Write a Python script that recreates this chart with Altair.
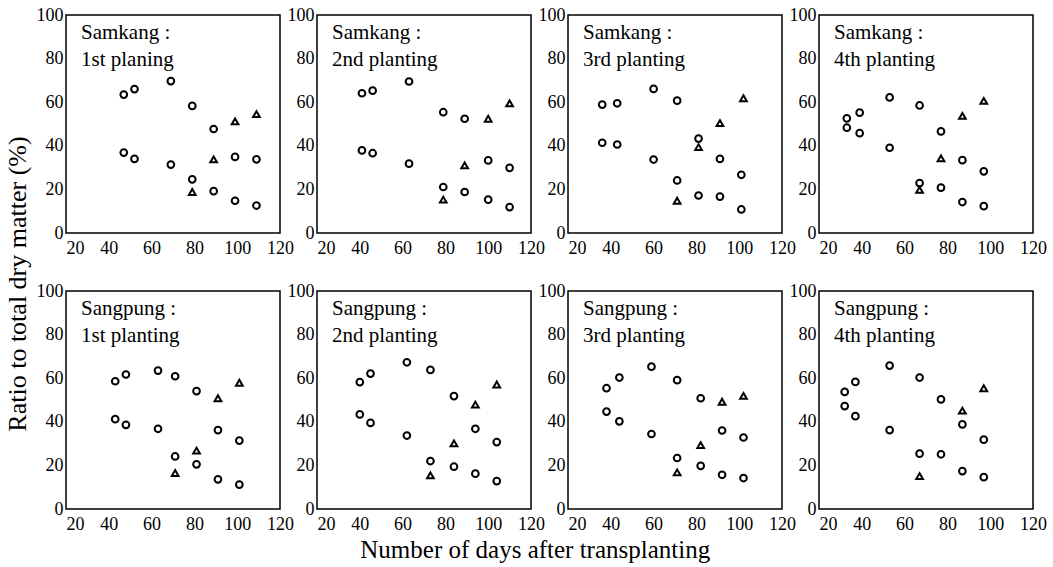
import altair as alt
import pandas as pd

# ---------------- data ----------------
PANEL_LABELS = [
    ["Samkang :", "1st planing"],
    ["Samkang :", "2nd planting"],
    ["Samkang :", "3rd planting"],
    ["Samkang :", "4th planting"],
    ["Sangpung :", "1st planting"],
    ["Sangpung :", "2nd planting"],
    ["Sangpung :", "3rd planting"],
    ["Sangpung :", "4th planting"],
]

# Samkang 1st planting
P1_CIRCLE_DAYS = [47, 52, 69, 79, 89, 47, 52, 69, 79, 89, 99, 109, 99, 109]
P1_CIRCLE_RATIO = [63.5, 66.0, 69.7, 58.3, 47.7, 36.9, 34.0, 31.4, 24.6, 19.2, 34.9, 33.8, 14.8, 12.6]
P1_TRIANGLE_DAYS = [79, 89, 99, 109]
P1_TRIANGLE_RATIO = [18.8, 33.8, 51.2, 54.5]

# Samkang 2nd planting
P2_CIRCLE_DAYS = [41, 46, 63, 79, 89, 41, 46, 63, 79, 89, 100, 110, 100, 110]
P2_CIRCLE_RATIO = [64.1, 65.3, 69.5, 55.4, 52.4, 37.9, 36.6, 31.8, 21.1, 18.8, 33.3, 29.9, 15.3, 11.9]
P2_TRIANGLE_DAYS = [79, 89, 100, 110]
P2_TRIANGLE_RATIO = [15.3, 31.0, 52.4, 59.5]

# Samkang 3rd planting
P3_CIRCLE_DAYS = [36, 43, 60, 71, 81, 36, 43, 60, 71, 81, 91, 91, 101, 101]
P3_CIRCLE_RATIO = [58.9, 59.5, 66.1, 60.7, 43.3, 41.4, 40.6, 33.7, 24.1, 17.2, 34.0, 16.7, 26.7, 10.8]
P3_TRIANGLE_DAYS = [71, 81, 91, 102]
P3_TRIANGLE_RATIO = [14.8, 39.4, 50.4, 61.8]

# Samkang 4th planting
P4_CIRCLE_DAYS = [33, 33, 39, 39, 53, 53, 67, 67, 77, 77, 87, 87, 97, 97]
P4_CIRCLE_RATIO = [52.6, 48.3, 55.2, 45.8, 62.2, 39.1, 58.5, 22.9, 46.6, 20.8, 33.4, 14.2, 28.3, 12.3]
P4_TRIANGLE_DAYS = [67, 77, 87, 97]
P4_TRIANGLE_RATIO = [19.8, 34.2, 53.7, 60.6]

# Sangpung 1st planting
P5_CIRCLE_DAYS = [43, 48, 63, 71, 81, 43, 48, 63, 71, 81, 91, 91, 101, 101]
P5_CIRCLE_RATIO = [58.6, 61.7, 63.5, 60.9, 54.1, 41.2, 38.6, 36.8, 24.1, 20.5, 36.2, 13.6, 31.4, 11.2]
P5_TRIANGLE_DAYS = [71, 81, 91, 101]
P5_TRIANGLE_RATIO = [16.5, 26.8, 50.8, 57.9]

# Sangpung 2nd planting
P6_CIRCLE_DAYS = [40, 45, 62, 73, 84, 40, 45, 62, 73, 84, 94, 94, 104, 104]
P6_CIRCLE_RATIO = [58.2, 62.1, 67.3, 63.8, 51.8, 43.4, 39.5, 33.7, 22.0, 19.4, 36.8, 16.2, 30.7, 12.8]
P6_TRIANGLE_DAYS = [73, 84, 94, 104]
P6_TRIANGLE_RATIO = [15.4, 30.1, 47.9, 57.1]

# Sangpung 3rd planting
P7_CIRCLE_DAYS = [38, 44, 59, 71, 82, 38, 44, 59, 71, 82, 92, 92, 102, 102]
P7_CIRCLE_RATIO = [55.4, 60.3, 65.3, 59.1, 50.8, 44.7, 40.2, 34.4, 23.4, 19.8, 36.0, 15.7, 32.8, 14.2]
P7_TRIANGLE_DAYS = [71, 82, 92, 102]
P7_TRIANGLE_RATIO = [16.8, 29.3, 49.2, 51.9]

# Sangpung 4th planting
P8_CIRCLE_DAYS = [32, 32, 37, 37, 53, 53, 67, 67, 77, 77, 87, 87, 97, 97]
P8_CIRCLE_RATIO = [53.7, 47.2, 58.3, 42.6, 65.8, 36.2, 60.3, 25.4, 50.3, 25.1, 38.8, 17.4, 31.8, 14.6]
P8_TRIANGLE_DAYS = [67, 87, 97]
P8_TRIANGLE_RATIO = [15.1, 45.1, 55.4]

X_TICKS = [20, 40, 60, 80, 100, 120]
Y_TICKS = [0, 20, 40, 60, 80, 100]

PANELS = [
    (P1_CIRCLE_DAYS, P1_CIRCLE_RATIO, P1_TRIANGLE_DAYS, P1_TRIANGLE_RATIO),
    (P2_CIRCLE_DAYS, P2_CIRCLE_RATIO, P2_TRIANGLE_DAYS, P2_TRIANGLE_RATIO),
    (P3_CIRCLE_DAYS, P3_CIRCLE_RATIO, P3_TRIANGLE_DAYS, P3_TRIANGLE_RATIO),
    (P4_CIRCLE_DAYS, P4_CIRCLE_RATIO, P4_TRIANGLE_DAYS, P4_TRIANGLE_RATIO),
    (P5_CIRCLE_DAYS, P5_CIRCLE_RATIO, P5_TRIANGLE_DAYS, P5_TRIANGLE_RATIO),
    (P6_CIRCLE_DAYS, P6_CIRCLE_RATIO, P6_TRIANGLE_DAYS, P6_TRIANGLE_RATIO),
    (P7_CIRCLE_DAYS, P7_CIRCLE_RATIO, P7_TRIANGLE_DAYS, P7_TRIANGLE_RATIO),
    (P8_CIRCLE_DAYS, P8_CIRCLE_RATIO, P8_TRIANGLE_DAYS, P8_TRIANGLE_RATIO),
]

# ---------------- styling ----------------
FONT = "Liberation Serif"
PANEL_W = 214
PANEL_H = 218


def make_panel(cx, cy, tx, ty, label_lines):
    rows = [{"days": d, "ratio": r, "marker": "circle"} for d, r in zip(cx, cy)]
    rows += [{"days": d, "ratio": r, "marker": "triangle"} for d, r in zip(tx, ty)]
    df = pd.DataFrame(rows)

    x_enc = alt.X(
        "days:Q",
        scale=alt.Scale(domain=[20, 120], nice=False, zero=False),
        axis=alt.Axis(
            values=X_TICKS,
            title=None,
            labelPadding=6,
            labelAlign={
                "condition": {"test": "datum.value === 20", "value": "left"},
                "value": "center",
            },
        ),
    )
    y_enc = alt.Y(
        "ratio:Q",
        scale=alt.Scale(domain=[0, 100], nice=False),
        axis=alt.Axis(values=Y_TICKS, title=None, labelPadding=3),
    )
    pts = (
        alt.Chart(df)
        .mark_point(filled=False, color="black", strokeWidth=2, size=45, opacity=1)
        .encode(
            x=x_enc,
            y=y_enc,
            shape=alt.Shape(
                "marker:N",
                scale=alt.Scale(domain=["circle", "triangle"], range=["circle", "triangle-up"]),
                legend=None,
            ),
        )
    )
    lbl = (
        alt.Chart(pd.DataFrame({"k": [0]}))
        .mark_text(
            text=label_lines,
            align="left",
            baseline="top",
            font=FONT,
            fontSize=21,
            lineHeight=27,
            color="black",
        )
        .encode(x=alt.value(15), y=alt.value(7))
    )
    return alt.layer(pts, lbl).properties(width=PANEL_W, height=PANEL_H)


panels = [make_panel(*p, lab) for p, lab in zip(PANELS, PANEL_LABELS)]

grid = alt.concat(
    *panels,
    columns=4,
    spacing={"row": 58, "column": 37},
    bounds="flush",
).properties(
    title=alt.TitleParams(
        text="Number of days after transplanting",
        orient="bottom",
        anchor="middle",
        font=FONT,
        fontSize=25,
        fontWeight="normal",
        color="black",
        offset=4,
        dx=-6,
    )
)

chart = (
    alt.hconcat(grid)
    .properties(
        title=alt.TitleParams(
            text="Ratio to total dry matter (%)",
            orient="left",
            anchor="middle",
            font=FONT,
            fontSize=26,
            fontWeight="normal",
            color="black",
            offset=4,
        ),
        padding={"left": 5, "top": 5, "right": 2, "bottom": 2},
        background="white",
    )
    .configure_view(stroke="black", strokeWidth=1.5)
    .configure_axis(
        domain=False,
        ticks=False,
        grid=False,
        labelFont=FONT,
        labelFontSize=18,
        labelColor="black",
        labelFlush=False,
        labelOverlap=False,
    )
)

chart.save("out.html", embed_options={"renderer": "svg", "actions": False})
